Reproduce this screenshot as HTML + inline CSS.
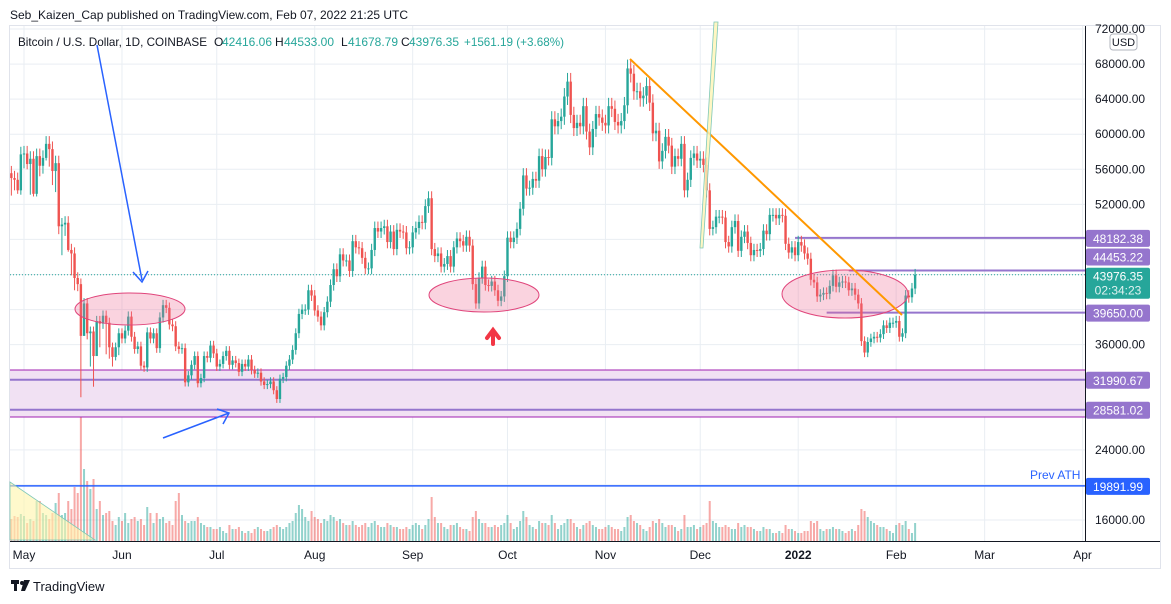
<!DOCTYPE html>
<html><head><meta charset="utf-8"><style>
body{margin:0;width:1171px;height:604px;background:#fff;font-family:"Liberation Sans",sans-serif;overflow:hidden}
svg{position:absolute;left:0;top:0}
</style></head><body>
<svg width="1171" height="604" id="c">
<rect x="0" y="0" width="1171" height="604" fill="#fff"/>
<text x="10" y="19" font-size="12" fill="#131722">Seb_Kaizen_Cap published on TradingView.com, Feb 07, 2022 21:25 UTC</text>
<rect x="9.5" y="25.5" width="1151" height="543" fill="none" stroke="#e0e3eb"/>
<g id="grid"></g>
<g id="vol"></g>
<rect x="10" y="370" width="1075" height="47" fill="#f1e1f3"/>
<line x1="10" x2="1085" y1="370" y2="370" stroke="#a020b0" stroke-width="1"/>
<line x1="10" x2="1085" y1="417" y2="417" stroke="#a020b0" stroke-width="1"/>
<g id="lines"></g>
<g id="candles"></g>
<g id="overlay"></g>
<line x1="1085.5" x2="1085.5" y1="26" y2="541" stroke="#131722"/>
<line x1="10" x2="1160" y1="541.5" y2="541.5" stroke="#131722"/>
<g id="yax"></g><g id="xax"></g>
<rect x="1110" y="34" width="27" height="16" rx="3" fill="#fff" stroke="#b2b5be"/>
<text x="1123.5" y="46" font-size="11" text-anchor="middle" fill="#131722">USD</text>
<g font-size="12">
<text x="18" y="46" fill="#131722" textLength="189" lengthAdjust="spacingAndGlyphs">Bitcoin / U.S. Dollar, 1D, COINBASE</text>
<text x="214" y="46" fill="#131722">O</text><text x="222" y="46" fill="#26a69a" textLength="50" lengthAdjust="spacingAndGlyphs">42416.06</text>
<text x="275" y="46" fill="#131722">H</text><text x="284" y="46" fill="#26a69a" textLength="50" lengthAdjust="spacingAndGlyphs">44533.00</text>
<text x="341" y="46" fill="#131722">L</text><text x="348" y="46" fill="#26a69a" textLength="50" lengthAdjust="spacingAndGlyphs">41678.79</text>
<text x="401" y="46" fill="#131722">C</text><text x="409" y="46" fill="#26a69a" textLength="50" lengthAdjust="spacingAndGlyphs">43976.35</text>
<text x="464" y="46" fill="#26a69a" textLength="100" lengthAdjust="spacingAndGlyphs">+1561.19 (+3.68%)</text>
</g>
<g><rect x="11" y="580" width="8" height="4" fill="#131722"/><rect x="14" y="580" width="3" height="11" fill="#131722"/><circle cx="22" cy="583" r="2" fill="#131722"/><polygon points="24,580 30,580 25,591 21,591" fill="#131722"/>
<text x="33" y="591" font-size="13" fill="#131722">TradingView</text></g>
</svg>
<script>
const NS='http://www.w3.org/2000/svg';
const closes=[55000,54800,53600,57700,
57800,56600,57200,53200,57500,56400,57300,58900,58300,55800,56700,49500,49700,49900,46800,46400,43600,42900,37000,40700,37300,37500,34700,38700,38400,39300,38500,35700,34600,35700,37300,
36700,37600,39200,36900,35500,35800,33600,33400,37400,36700,37300,35600,39100,40500,40200,38300,38100,35800,35500,35600,31700,32500,33700,34700,31600,32200,34700,34500,35900,35000,
33500,33800,34700,35300,33700,34200,33900,32900,33800,33500,34300,33100,32700,32800,31800,31400,31500,31800,30800,29800,32100,32300,33600,34300,35400,37300,39500,40000,40000,42200,41600,
39900,39200,38200,39700,40900,42800,44600,43800,46300,45600,45600,44400,47800,47100,47000,45900,44700,44700,46800,49300,48900,49300,49500,47700,48900,46900,49100,48900,48800,47000,47100,
48800,49300,50000,49900,51800,52700,46900,46100,46400,44900,45200,46100,44900,47100,48100,47800,47300,48300,47300,42900,40700,43600,44900,42800,42700,43200,42200,41000,41500,43800,
48200,47700,48200,49200,51500,55300,53800,53900,54900,54700,57500,56000,57400,57300,61700,60900,61500,62000,64300,66000,62200,60700,61300,60900,63200,60300,58500,60600,62300,61900,61300,
61000,63200,62900,61400,61000,61500,63300,67500,66900,64900,64900,64100,64400,65500,63600,60100,60400,56900,58100,59700,58700,56300,57500,57200,58900,53600,54800,57300,57800,57000,
57200,56500,53600,49200,49400,50600,50600,50500,47700,47200,49400,50100,46700,48300,48900,47600,46200,46800,46700,46900,49000,48600,50800,50800,50400,50800,50700,47500,46500,47100,46200,
47700,47300,46400,45800,43400,43100,41500,41700,41900,41800,42700,43900,42600,43100,43200,43100,42200,42400,41700,40700,36400,35100,36300,36700,36900,36800,37200,38200,37900,38500,38500,
38700,36900,37300,41600,41400,42400,43976];
const lows=[53000,53600,53200,53100,56100,56000,53100,52900,52900,55200,55500,57000,56300,54200,53400,48600,46200,48400,46600,43900,42200,42100,30000,37000,36600,33500,31200,34900,35700,37800,34900,34400,33500,34200,34800];
const volumes=[22,25,24,27,
25,18,22,20,40,40,28,26,22,28,38,48,26,28,40,32,54,48,128,72,60,52,62,32,40,26,28,30,20,16,24,
20,28,18,22,24,20,22,16,34,28,18,28,22,24,18,20,16,40,48,26,20,18,20,20,24,18,16,14,14,12,
12,14,10,8,16,12,12,14,10,8,10,8,12,14,12,10,10,12,14,16,14,12,14,18,20,28,36,32,24,20,30,
24,22,18,22,20,26,24,20,22,18,16,16,20,16,14,16,18,14,18,20,16,14,14,18,16,14,14,12,12,14,12,
16,18,16,12,16,22,44,24,18,18,14,12,16,16,18,14,12,12,10,24,30,22,18,18,14,14,16,14,16,18,
26,18,12,14,20,30,24,16,14,12,20,18,18,16,26,18,12,16,18,22,22,18,14,12,16,18,20,16,14,12,12,
14,16,14,12,12,10,14,24,26,20,18,16,12,10,14,20,18,22,18,14,16,16,14,10,12,26,14,14,16,12,
14,16,18,40,20,18,14,14,16,14,12,12,18,14,16,14,14,12,10,10,14,12,12,8,8,10,8,16,12,12,10,
8,8,10,10,20,18,20,12,10,12,12,14,12,12,10,8,10,12,10,16,32,30,24,20,18,16,14,14,12,10,8,
16,18,16,20,12,8,18];
const yTicks=[16000,20000,24000,28000,32000,36000,40000,44000,48000,52000,56000,60000,64000,68000,72000];
const xLabels=['May','Jun','Jul','Aug','Sep','Oct','Nov','Dec','2022','Feb','Mar','Apr'];
const xLabelDays=[0,31,61,92,123,153,184,214,245,276,304,335];
const levels=[48182.38,44453.22,39650.00,31990.67,28581.02];
const levelStartDay=[244,261,254,-4,-4];
const ath=19891.99, lastPrice=43976.35;

const X0=24, DX=3.16, START=-4;
const xd=d=>X0+d*DX;
const y=p=>29+(72000-p)*491/56000;
function el(tag,attrs,parent){const e=document.createElementNS(NS,tag);for(const k in attrs)e.setAttribute(k,attrs[k]);document.getElementById(parent).appendChild(e);return e;}

yTicks.forEach(v=>{const yy=y(v);
 const g=el('line',{x1:10,x2:1085,y1:yy,y2:yy,stroke:'#e9eef3'},'grid');
 
 if(v===20000||v===44000||v===48000||v===40000||v===32000||v===28000)return;
 const t=el('text',{x:1095,y:yy+4,'font-size':12,fill:'#131722'},'yax');t.textContent=v.toFixed(2);
 });
xLabels.forEach((l,i)=>{const xx=xd(xLabelDays[i]);
 const g=el('line',{x1:xx,x2:xx,y1:26,y2:541,stroke:'#e9eef3'},'grid');
 
 const t=el('text',{x:xx,y:559,'font-size':12,'text-anchor':'middle',fill:'#131722','font-weight':l==='2022'?'bold':'normal'},'xax');t.textContent=l;
 });

closes.forEach((c,i)=>{const o=i?closes[i-1]:c*1.01;const up=c>=o;const xx=xd(START+i);
 const v=el('rect',{x:xx-1,width:2,y:541-volumes[i],height:volumes[i],fill:up?'rgba(38,166,154,0.5)':'rgba(239,83,80,0.5)'},'vol');
 
 const hi=Math.max(o,c)*1.015, lo=i<lows.length?lows[i]:Math.min(o,c)*0.985;
 const col=up?'#26a69a':'#ef5350';
 const w=el('line',{x1:xx,x2:xx,y1:y(hi),y2:y(lo),stroke:col,'stroke-width':1},'candles');
 
 const b=el('rect',{x:xx-1.2,width:2.4,y:y(Math.max(o,c)),height:Math.max(1,Math.abs(y(o)-y(c))),fill:col},'candles');
 });

levels.forEach((lv,i)=>{const yy=y(lv);
 const l=el('line',{x1:i>=3?10:xd(levelStartDay[i]),x2:1085,y1:yy,y2:yy,stroke:'#9575cd','stroke-width':2},'lines');
 
 const ly=(i===1)?yy-14:yy;
 const r=el('rect',{x:1086,y:ly-8,width:64,height:17,rx:2,fill:'#9575cd'},'overlay');
 
 const t=el('text',{x:1118,y:ly+5,'font-size':12,'text-anchor':'middle',fill:'#fff'},'overlay');t.textContent=lv.toFixed(2);});
{const yy=y(ath);
 const l=el('line',{x1:10,x2:1085,y1:yy,y2:yy,stroke:'#2962ff','stroke-width':1.5},'lines');
 
 const t0=el('text',{x:1030,y:yy-7,'font-size':12,fill:'#2962ff'},'lines');t0.textContent='Prev ATH';
 
 const r=el('rect',{x:1086,y:yy-8,width:64,height:17,rx:2,fill:'#2962ff'},'overlay');
 
 const t=el('text',{x:1118,y:yy+5,'font-size':12,'text-anchor':'middle',fill:'#fff'},'overlay');t.textContent=ath.toFixed(2);}
{const yy=y(lastPrice);
 const l=el('line',{x1:10,x2:1085,y1:yy,y2:yy,stroke:'#26a69a','stroke-dasharray':'1 2'},'lines');
 
 const r=el('rect',{x:1086,y:yy-7,width:64,height:31,rx:2,fill:'#26a69a'},'overlay');
 
 const t=el('text',{x:1118,y:yy+6,'font-size':12,'text-anchor':'middle',fill:'#fff'},'overlay');t.textContent=lastPrice.toFixed(2);
 const t2=el('text',{x:1118,y:yy+20,'font-size':12,'text-anchor':'middle',fill:'#e0f2f1'},'overlay');t2.textContent='02:34:23';}
</script>
<svg width="1171" height="604" style="pointer-events:none">
<ellipse cx="130" cy="309" rx="55" ry="16" fill="rgba(240,110,150,0.3)" stroke="#e0457b"/>
<ellipse cx="484" cy="295" rx="55" ry="17" fill="rgba(240,110,150,0.3)" stroke="#e0457b"/>
<ellipse cx="845" cy="294" rx="63" ry="24" fill="rgba(240,110,150,0.3)" stroke="#e0457b"/>
<line x1="630" y1="59" x2="902" y2="315" stroke="#ff9800" stroke-width="2"/>
<polygon points="700,248 714,22 718,22 703,248" fill="rgba(255,245,180,0.8)" stroke="#7fc8b8" stroke-width="0.8"/>
<polygon points="10,482 95,540 10,540" fill="rgba(255,245,170,0.6)" stroke="#7fc8b8" stroke-width="0.8"/>
<line x1="97" y1="45" x2="142" y2="280" stroke="#2962ff" stroke-width="1.5"/>
<polyline points="133,272 142,282 148,271" fill="none" stroke="#2962ff" stroke-width="1.5"/>
<line x1="163" y1="438" x2="229" y2="413" stroke="#2962ff" stroke-width="1.5"/>
<polyline points="217,409 229,413 223,424" fill="none" stroke="#2962ff" stroke-width="1.5"/>
<path d="M493,344 L493,334 M487,338 L493,330 L499,338" fill="none" stroke="#f23645" stroke-width="4" stroke-linecap="round"/>
</svg>
</body></html>
